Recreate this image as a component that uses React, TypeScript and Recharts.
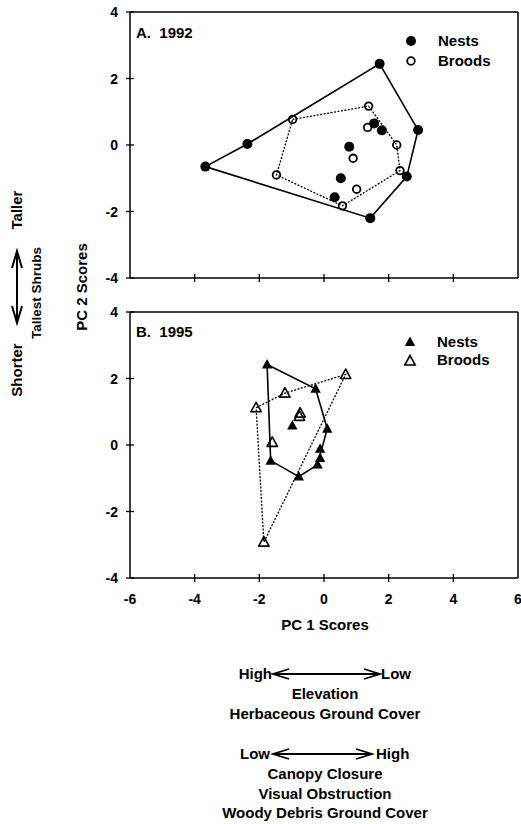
import React from 'react'
import { ScatterChart, Scatter, XAxis, YAxis, ReferenceLine } from 'recharts'

// PC scores
const nests1992 = [
  { x: -3.67, y: -0.65 },
  { x: -2.37, y: 0.03 },
  { x: 1.72, y: 2.44 },
  { x: 2.91, y: 0.45 },
  { x: 2.56, y: -0.95 },
  { x: 1.43, y: -2.2 },
  { x: 0.33, y: -1.57 },
  { x: 0.52, y: -1.0 },
  { x: 0.78, y: -0.05 },
  { x: 1.55, y: 0.65 },
  { x: 1.79, y: 0.44 },
]
const broods1992 = [
  { x: -0.97, y: 0.77 },
  { x: 1.38, y: 1.17 },
  { x: 2.25, y: 0.0 },
  { x: 2.35, y: -0.77 },
  { x: 0.57, y: -1.83 },
  { x: -1.47, y: -0.9 },
  { x: 1.35, y: 0.53 },
  { x: 0.9, y: -0.4 },
  { x: 1.01, y: -1.33 },
]
const nests1995 = [
  { x: -1.76, y: 2.42 },
  { x: -0.26, y: 1.69 },
  { x: 0.1, y: 0.49 },
  { x: -0.12, y: -0.11 },
  { x: -0.12, y: -0.39 },
  { x: -0.2, y: -0.59 },
  { x: -0.78, y: -0.95 },
  { x: -1.65, y: -0.47 },
  { x: -0.98, y: 0.59 },
]
const broods1995 = [
  { x: 0.67, y: 2.12 },
  { x: -1.21, y: 1.56 },
  { x: -2.1, y: 1.12 },
  { x: -0.74, y: 0.96 },
  { x: -0.76, y: 0.86 },
  { x: -1.6, y: 0.08 },
  { x: -1.86, y: -2.92 },
]

// convex hull vertex order (indices into the arrays above)
const nestHull1992 = [0, 1, 2, 3, 4, 5, 0]
const broodHull1992 = [0, 1, 2, 3, 4, 5, 0]
const nestHull1995 = [0, 1, 2, 5, 6, 7, 0]
const broodHull1995 = [2, 1, 0, 6, 2]

const xTicks = [-6, -4, -2, 0, 2, 4, 6]
const yTicks = [-4, -2, 0, 2, 4]

const FONT = '"Liberation Sans", Arial, sans-serif'

const hull = (pts: { x: number; y: number }[], idx: number[]) => idx.map((i) => pts[i])

const FilledCircle = (p: any) => <circle cx={p.cx} cy={p.cy} r={5} fill="#000" />
const OpenCircle = (p: any) => (
  <circle cx={p.cx} cy={p.cy} r={3.8} fill="none" stroke="#000" strokeWidth={1.8} />
)
const tri = (cx: number, cy: number) =>
  `${cx},${cy - 5.5} ${cx + 5.2},${cy + 4} ${cx - 5.2},${cy + 4}`
const FilledTri = (p: any) => <polygon points={tri(p.cx, p.cy)} fill="#000" />
const OpenTri = (p: any) => (
  <polygon points={tri(p.cx, p.cy)} fill="none" stroke="#000" strokeWidth={1.6} strokeLinejoin="round" />
)
const NoDot = () => <g />

const YTick = (p: any) => (
  <g>
    <line x1={p.x - 4} x2={p.x + 4} y1={p.y} y2={p.y} stroke="#000" strokeWidth={1.3} />
    <text x={p.x - 12} y={p.y + 5} textAnchor="end" fontFamily={FONT} fontWeight="bold" fontSize={14} fill="#000">
      {p.payload.value}
    </text>
  </g>
)
const XTick = (showLabel: boolean) => (p: any) => (
  <g>
    {Math.abs(p.payload.value) < 6 && (
      <line x1={p.x} x2={p.x} y1={p.y - 4} y2={p.y + 4} stroke="#000" strokeWidth={1.3} />
    )}
    {showLabel && (
      <text x={p.x} y={p.y + 26} textAnchor="middle" fontFamily={FONT} fontWeight="bold" fontSize={14} fill="#000">
        {p.payload.value}
      </text>
    )}
  </g>
)

function Panel({
  nests,
  broods,
  nestHull,
  broodHull,
  nestShape,
  broodShape,
  showXLabels,
  height,
}: any) {
  return (
    <ScatterChart width={521} height={height} margin={{ top: 12, right: 3, bottom: 0, left: 0 }}>
      <XAxis
        type="number"
        dataKey="x"
        domain={[-6, 6]}
        ticks={xTicks}
        interval={0}
        height={height - 278}
        tickSize={0}
        tickMargin={0}
        tickLine={false}
        stroke="#000"
        strokeWidth={1.5}
        tick={XTick(showXLabels)}
        allowDataOverflow
      />
      <YAxis
        type="number"
        dataKey="y"
        domain={[-4, 4]}
        ticks={yTicks}
        interval={0}
        width={130}
        tickSize={0}
        tickMargin={0}
        tickLine={false}
        stroke="#000"
        strokeWidth={1.5}
        tick={YTick}
        allowDataOverflow
      />
      <ReferenceLine y={4} stroke="#000" strokeWidth={1.5} />
      <ReferenceLine x={6} stroke="#000" strokeWidth={1.5} />
      <Scatter
        data={hull(nests, nestHull)}
        line={{ stroke: '#000', strokeWidth: 1.6 }}
        lineType="joint"
        shape={NoDot}
        isAnimationActive={false}
      />
      <Scatter
        data={hull(broods, broodHull)}
        line={{ stroke: '#000', strokeWidth: 1.3, strokeDasharray: '2 1.5' }}
        lineType="joint"
        shape={NoDot}
        isAnimationActive={false}
      />
      <Scatter data={nests} shape={nestShape} isAnimationActive={false} />
      <Scatter data={broods} shape={broodShape} isAnimationActive={false} />
    </ScatterChart>
  )
}

const txt: React.CSSProperties = {
  position: 'absolute',
  fontFamily: FONT,
  fontWeight: 'bold',
  fontSize: 15,
  color: '#000',
  whiteSpace: 'nowrap',
  lineHeight: '16px',
}

const HArrow = ({ x1, x2, y }: { x1: number; x2: number; y: number }) => (
  <g stroke="#000" strokeWidth={1.8} fill="none">
    <line x1={x1} x2={x2} y1={y} y2={y} />
    <polyline points={`${x1 + 16},${y - 5} ${x1},${y} ${x1 + 16},${y + 5}`} />
    <polyline points={`${x2 - 16},${y - 5} ${x2},${y} ${x2 - 16},${y + 5}`} />
  </g>
)

export default function App() {
  return (
    <div style={{ position: 'absolute', left: 0, top: 0, width: 521, height: 824, background: '#fff' }}>
      <div style={{ position: 'absolute', left: 0, top: 0 }}>
        <Panel
          nests={nests1992}
          broods={broods1992}
          nestHull={nestHull1992}
          broodHull={broodHull1992}
          nestShape={FilledCircle}
          broodShape={OpenCircle}
          showXLabels={false}
          height={290}
        />
      </div>
      <div style={{ position: 'absolute', left: 0, top: 300 }}>
        <Panel
          nests={nests1995}
          broods={broods1995}
          nestHull={nestHull1995}
          broodHull={broodHull1995}
          nestShape={FilledTri}
          broodShape={OpenTri}
          showXLabels={true}
          height={320}
        />
      </div>

      {/* panel labels and legends */}
      <div style={{ ...txt, left: 136, top: 25 }}>A.&nbsp;&nbsp;1992</div>
      <div style={{ ...txt, left: 136, top: 324 }}>B.&nbsp;&nbsp;1995</div>
      <svg width={521} height={824} style={{ position: 'absolute', left: 0, top: 0, pointerEvents: 'none' }}>
        <circle cx={411} cy={41} r={5} fill="#000" />
        <circle cx={411} cy={61} r={3.8} fill="none" stroke="#000" strokeWidth={1.8} />
        <polygon points={tri(410, 342)} fill="#000" />
        <polygon points={tri(410, 361)} fill="none" stroke="#000" strokeWidth={1.6} />
        {/* vertical shrub arrow */}
        <g stroke="#000" strokeWidth={2} fill="none">
          <line x1={17} x2={17} y1={251} y2={323} />
          <polyline points={`12,268 17,251 22,268`} />
          <polyline points={`12,306 17,323 22,306`} />
        </g>
        <HArrow x1={273} x2={380} y={674} />
        <HArrow x1={273} x2={372} y={754} />
      </svg>
      <div style={{ ...txt, left: 438, top: 33 }}>Nests</div>
      <div style={{ ...txt, left: 438, top: 53 }}>Broods</div>
      <div style={{ ...txt, left: 437, top: 334 }}>Nests</div>
      <div style={{ ...txt, left: 437, top: 352 }}>Broods</div>

      {/* axis titles */}
      <div style={{ ...txt, left: 325, top: 617, transform: 'translateX(-50%)' }}>PC 1 Scores</div>
      <div style={{ ...txt, left: 82, top: 287, transform: 'translate(-50%, -50%) rotate(-90deg)' }}>
        PC 2 Scores
      </div>
      <div style={{ ...txt, left: 17, top: 210, transform: 'translate(-50%, -50%) rotate(-90deg)' }}>Taller</div>
      <div style={{ ...txt, left: 17, top: 370, transform: 'translate(-50%, -50%) rotate(-90deg)' }}>Shorter</div>
      <div style={{ ...txt, left: 37, top: 293, fontSize: 13.5, transform: 'translate(-50%, -50%) rotate(-90deg)' }}>
        Tallest Shrubs
      </div>

      {/* PC1 interpretation */}
      <div style={{ ...txt, left: 272, top: 666, transform: 'translateX(-100%)' }}>High</div>
      <div style={{ ...txt, left: 381, top: 666 }}>Low</div>
      <div style={{ ...txt, left: 325, top: 686, transform: 'translateX(-50%)' }}>Elevation</div>
      <div style={{ ...txt, left: 325, top: 706, transform: 'translateX(-50%)' }}>Herbaceous Ground Cover</div>
      <div style={{ ...txt, left: 270, top: 746, transform: 'translateX(-100%)' }}>Low</div>
      <div style={{ ...txt, left: 376, top: 746 }}>High</div>
      <div style={{ ...txt, left: 325, top: 766, transform: 'translateX(-50%)' }}>Canopy Closure</div>
      <div style={{ ...txt, left: 325, top: 786, transform: 'translateX(-50%)' }}>Visual Obstruction</div>
      <div style={{ ...txt, left: 325, top: 805, transform: 'translateX(-50%)' }}>Woody Debris Ground Cover</div>
    </div>
  )
}
